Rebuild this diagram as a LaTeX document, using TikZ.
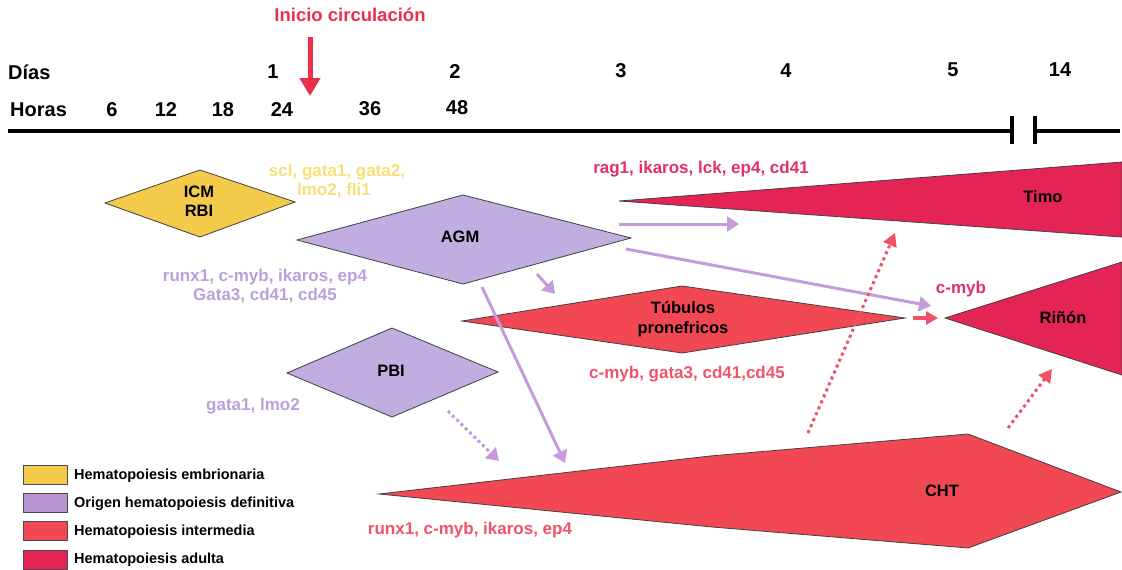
\documentclass[tikz,border=0pt]{standalone}
\usepackage{fontspec}
\setmainfont{Liberation Sans}
\usetikzlibrary{arrows.meta}
\definecolor{cYel}{RGB}{244,202,74}
\definecolor{cLav}{RGB}{192,174,224}
\definecolor{cLavLeg}{RGB}{182,148,208}
\definecolor{cRed}{RGB}{242,72,84}
\definecolor{cCrim}{RGB}{228,36,84}
\definecolor{tYel}{RGB}{246,224,120}
\definecolor{tLav}{RGB}{184,160,216}
\definecolor{tPink}{RGB}{226,48,100}
\definecolor{tRed}{RGB}{240,84,104}
\definecolor{tInicio}{RGB}{236,48,76}
\definecolor{aLav}{RGB}{196,156,220}
\definecolor{aRed}{RGB}{240,80,100}
\tikzset{
  mylbl/.style={inner sep=0pt, text height=0.72em, text depth=0pt},
  axislbl/.style={mylbl, font=\bfseries\fontsize{20}{22}\selectfont, text=black},
  genelbl/.style={mylbl, font=\bfseries\fontsize{17}{20}\selectfont},
  regionlbl/.style={mylbl, font=\bfseries\fontsize{16.5}{19}\selectfont, text=black},
  legtext/.style={mylbl, anchor=west, font=\bfseries\fontsize{14.5}{17}\selectfont, text=black},
  legbox/.style={draw=black!70, line width=0.8pt, minimum width=44pt, minimum height=19pt, inner sep=0pt},
  regionshape/.style={draw=black!75, line width=0.8pt},
  lavarrow/.style={draw=aLav, line width=3pt, -{Triangle[length=12pt,width=15pt]}},
  lavdot/.style={lavarrow, dash pattern=on 3pt off 3pt},
  reddot/.style={draw=aRed, line width=3pt, dash pattern=on 3pt off 3.5pt, -{Triangle[length=13pt,width=14pt]}},
  redarrow/.style={draw=aRed, line width=4pt, -{Triangle[length=12pt,width=13pt]}},
  circarrow/.style={draw=tInicio, line width=5pt, -{Triangle[length=18pt,width=20pt]}},
  tline/.style={draw=black, line width=4.5pt}
}
\begin{document}
\begin{tikzpicture}[x=1pt,y=-1pt]
\useasboundingbox (0,0) rectangle (1122,570);

% ---- time axis ----
\node[genelbl, text=tInicio, font=\bfseries\fontsize{18.5}{21}\selectfont] (inicio) at (350,18) {Inicio circulación};
\coordinate (circS) at (310,37);
\coordinate (circE) at (310,96);
\draw[circarrow] (circS) -- (circE);

\node[axislbl, anchor=west] (dias) at (8,76) {Días};
\node[axislbl, anchor=west] (horas) at (10,113) {Horas};
\node[axislbl] (d1) at (273,75) {1};
\node[axislbl] (d2) at (455,75) {2};
\node[axislbl] (d3) at (621,74) {3};
\node[axislbl] (d4) at (786,74) {4};
\node[axislbl] (d5) at (953,73) {5};
\node[axislbl] (d14) at (1060,73) {14};
\node[axislbl] (h6) at (112,113) {6};
\node[axislbl] (h12) at (166,113) {12};
\node[axislbl] (h18) at (223,113) {18};
\node[axislbl] (h24) at (282,113) {24};
\node[axislbl] (h36) at (370,112) {36};
\node[axislbl] (h48) at (457,111) {48};

\coordinate (axL) at (8,131);
\coordinate (axB1) at (1012,131);
\coordinate (axB2) at (1035,131);
\coordinate (axR) at (1120,131);
\draw[tline] (axL) -- (axB1);
\draw[tline] (axB2) -- (axR);
\draw[tline] (1012,116) -- (1012,144);
\draw[tline] (1035,116) -- (1035,144);

% ---- regions ----
\draw[regionshape, fill=cYel] (105,203) -- (200,170) -- (295,202) -- (200,237) -- cycle;
\node[regionlbl] (icm) at (199,194) {ICM};
\node[regionlbl] (rbi) at (199,213) {RBI};
\node[genelbl, text=tYel] (scl1) at (337,173) {scl, gata1, gata2,};
\node[genelbl, text=tYel] (scl2) at (334,192) {lmo2, fli1};

\draw[regionshape, fill=cLav] (297,240) -- (463,195) -- (631,238) -- (463,284) -- cycle;
\node[regionlbl] (agm) at (460,239) {AGM};
\node[genelbl, text=tLav] (agmg1) at (265,278) {runx1, c-myb, ikaros, ep4};
\node[genelbl, text=tLav] (agmg2) at (265,297) {Gata3, cd41, cd45};

\draw[regionshape, fill=cLav] (287,373) -- (392,328) -- (498,372) -- (392,417) -- cycle;
\node[regionlbl] (pbi) at (391,373) {PBI};
\node[genelbl, text=tLav] (pbig) at (253,407) {gata1, lmo2};

\draw[regionshape, fill=cCrim] (619,201) -- (1122,162) -- (1122,237) -- cycle;
\node[regionlbl] (timo) at (1043,199) {Timo};
\node[genelbl, text=tPink] (timog) at (701,170) {rag1, ikaros, lck, ep4, cd41};

\draw[regionshape, fill=cRed] (462,321) -- (682,286) -- (905,318) -- (682,353) -- cycle;
\node[regionlbl] (tub1) at (683,310) {Túbulos};
\node[regionlbl] (tub2) at (683,330) {pronefricos};
\node[genelbl, text=tRed] (tubg) at (687,375) {c-myb, gata3, cd41,cd45};

\draw[regionshape, fill=cCrim] (945,318) -- (1122,262) -- (1122,375) -- cycle;
\node[regionlbl] (rinon) at (1063,320) {Riñón};
\node[genelbl, text=tPink] (rinong) at (961,290) {c-myb};

\draw[regionshape, fill=cRed] (379,494) -- (710,456) -- (968,434) -- (1121,492) -- (968,548) -- (712,527) -- cycle;
\node[regionlbl] (cht) at (942,493) {CHT};
\node[genelbl, text=tRed] (chtg) at (470,531) {runx1, c-myb, ikaros, ep4};

% ---- connectors ----
\coordinate (a1s) at (619,224); \coordinate (a1e) at (739,224);
\draw[lavarrow] (a1s) -- (a1e);
\coordinate (a2s) at (626,249); \coordinate (a2e) at (931,306);
\draw[lavarrow] (a2s) -- (a2e);
\coordinate (a3s) at (537,274); \coordinate (a3e) at (555,294);
\draw[lavarrow] (a3s) -- (a3e);
\coordinate (a4s) at (482,287); \coordinate (a4e) at (565,463);
\draw[lavarrow] (a4s) -- (a4e);
\coordinate (a5s) at (448,411); \coordinate (a5e) at (499,461);
\draw[lavdot] (a5s) -- (a5e);
\coordinate (r1s) at (913,318); \coordinate (r1e) at (938,318);
\draw[redarrow] (r1s) -- (r1e);
\coordinate (d1s) at (808,433); \coordinate (d1e) at (895,233);
\draw[reddot] (d1s) -- (d1e);
\coordinate (d2s) at (1008,428); \coordinate (d2e) at (1052,369);
\draw[reddot] (d2s) -- (d2e);

% ---- legend ----
\node[legbox, fill=cYel] (lb1) at (45,475) {};
\node[legtext] (lt1) at (74,476) {Hematopoiesis embrionaria};
\node[legbox, fill=cLavLeg] (lb2) at (45,503) {};
\node[legtext] (lt2) at (74,504) {Origen hematopoiesis definitiva};
\node[legbox, fill=cRed] (lb3) at (45,531) {};
\node[legtext] (lt3) at (74,532) {Hematopoiesis intermedia};
\node[legbox, fill=cCrim] (lb4) at (45,560) {};
\node[legtext] (lt4) at (74,560) {Hematopoiesis adulta};
\end{tikzpicture}
\end{document}
